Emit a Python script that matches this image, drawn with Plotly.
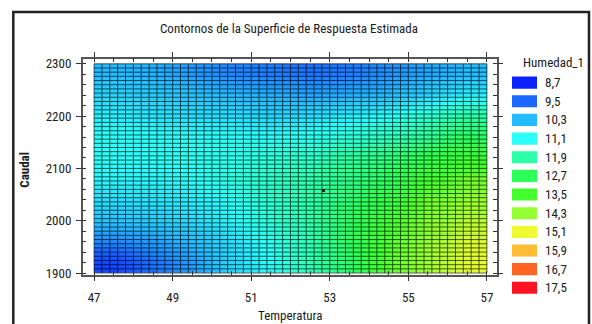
import numpy as np
import plotly.graph_objects as go

# ---------------- data ----------------
# cell-centre positions of the read values
temperatura = [47.5, 48.5, 49.5, 50.5, 51.5, 52.5, 53.5, 54.5, 55.5, 56.5]
caudal = [1920, 1960, 2000, 2040, 2080, 2120, 2160, 2200, 2240, 2280]
humedad = [
    [9.1, 9.6, 10.0, 10.6, 11.1, 11.8, 12.5, 13.7, 14.4, 15.0],
    [9.8, 10.0, 10.3, 10.7, 11.2, 11.8, 12.6, 13.6, 14.3, 14.9],
    [10.4, 10.5, 10.7, 11.0, 11.4, 11.9, 12.6, 13.4, 14.1, 14.6],
    [10.7, 10.8, 10.9, 11.1, 11.5, 11.9, 12.4, 13.0, 13.9, 14.3],
    [11.0, 11.0, 11.1, 11.3, 11.6, 11.9, 12.2, 12.7, 13.4, 13.9],
    [11.1, 11.1, 11.2, 11.2, 11.4, 11.6, 12.0, 12.4, 12.9, 13.3],
    [11.1, 11.1, 11.1, 11.1, 11.1, 11.2, 11.4, 11.7, 12.1, 12.6],
    [10.9, 10.8, 10.7, 10.7, 10.6, 10.7, 10.9, 11.1, 11.5, 11.9],
    [10.6, 10.5, 10.4, 10.3, 10.2, 10.1, 10.2, 10.3, 10.6, 10.9],
    [10.3, 10.2, 10.0, 9.8, 9.7, 9.6, 9.7, 9.9, 10.1, 10.3],
]
# evaluation grid of the surface (cell edges)
t_min, t_max, n_t = 47, 57, 50
q_min, q_max, n_q = 1900, 2300, 50
# marked point
punto_t = [52.84]
punto_q = [2058]

niveles = [8.7, 9.5, 10.3, 11.1, 11.9, 12.7, 13.5, 14.3, 15.1, 15.9, 16.7, 17.5]
colores = ["#0a22ff", "#1a68ff", "#24bcff", "#2cfffa", "#2cffa8", "#2cff58",
           "#44ff2e", "#94ff32", "#f0fa34", "#ffbc34", "#ff6424", "#ff1222"]
etiquetas = [f"{v:.1f}".replace(".", ",") for v in niveles]

W, H = 592, 324
FONT = "Roboto Condensed, Archivo Narrow, Arial Narrow, sans-serif"
TXT = "#1a1a1a"

def px(x):
    return x / W

def py(y):
    return 1 - y / H

zmin, zmax = niveles[0], niveles[-1]
cscale = [[(v - zmin) / (zmax - zmin), c] for v, c in zip(niveles, colores)]

fig = go.Figure()

fig.add_trace(go.Heatmap(
    x=temperatura, y=caudal, z=humedad,
    colorscale=cscale, zmin=zmin, zmax=zmax, zsmooth="best",
    showscale=False, hoverinfo="skip",
))

# cell grid lines
t_edges = np.linspace(t_min, t_max, n_t + 1)
q_edges = np.linspace(q_min, q_max, n_q + 1)
gx, gy = [], []
for t in t_edges:
    gx += [t, t, None]
    gy += [q_min, q_max, None]
for q in q_edges:
    gx += [t_min, t_max, None]
    gy += [q, q, None]
fig.add_trace(go.Scatter(x=gx, y=gy, mode="lines",
                         line=dict(color="rgba(0,0,0,0.62)", width=1),
                         hoverinfo="skip", showlegend=False))

fig.add_trace(go.Scatter(x=punto_t, y=punto_q, mode="markers",
                         marker=dict(symbol="square", size=3, color="#222"),
                         hoverinfo="skip", showlegend=False))

# legend as a small bar subplot
fig.add_trace(go.Bar(
    x=[1] * len(niveles), y=etiquetas, orientation="h",
    marker=dict(color=colores, line=dict(width=0)),
    xaxis="x2", yaxis="y2", hoverinfo="skip", showlegend=False,
))

axis_common = dict(
    showline=True, linecolor="#555", linewidth=1.5, mirror="allticks",
    ticks="outside", ticklen=5, tickcolor="#333", tickwidth=1,
    showgrid=False, zeroline=False,
    tickfont=dict(family=FONT, size=13, color=TXT),
)

fig.update_layout(
    width=W, height=H,
    margin=dict(l=0, r=0, t=0, b=0),
    paper_bgcolor="white", plot_bgcolor="white",
    showlegend=False,
    bargap=0.35,
    xaxis=dict(
        domain=[px(82.7), px(496.7)], range=[46.71, 57.25],
        tickvals=[47, 49, 51, 53, 55, 57], ticklabelstandoff=5,
        minor=dict(dtick=0.5, tick0=47, ticks="inside", ticklen=4, tickcolor="#333"),
        anchor="y", **axis_common,
    ),
    yaxis=dict(
        domain=[py(279.5), py(58)], range=[1897, 2310],
        tickvals=[1900, 2000, 2100, 2200, 2300], ticklabelstandoff=2,
        minor=dict(dtick=20, tick0=1900, ticks="inside", ticklen=4, tickcolor="#333"),
        anchor="x", **axis_common,
    ),
    xaxis2=dict(domain=[px(512), px(537)], range=[0, 1], visible=False,
                anchor="y2", fixedrange=True),
    yaxis2=dict(domain=[py(302.6), py(73.1)], anchor="x2", side="right",
                autorange="reversed", showline=False, showgrid=False,
                zeroline=False, ticks="", ticklabelstandoff=7,
                tickfont=dict(family=FONT, size=13, color=TXT)),
)

# outer frame
fig.add_shape(type="rect", xref="paper", yref="paper",
              x0=px(13.3), x1=px(589), y0=py(340), y1=py(10.3),
              line=dict(color="#222", width=2.5), fillcolor="rgba(0,0,0,0)")

anns = [
    dict(text="Contornos de la Superficie de Respuesta Estimada", x=px(288.5), y=py(27.5),
         font=dict(family=FONT, size=13, color=TXT)),
    dict(text="Humedad_1", x=px(553), y=py(62.5), font=dict(family=FONT, size=13, color=TXT)),
    dict(text="<b>Caudal</b>", x=px(25), y=py(172), textangle=-90,
         font=dict(family=FONT, size=13, color=TXT)),
    dict(text="Temperatura", x=px(290), y=py(321.5), font=dict(family=FONT, size=13, color=TXT)),
]
for a in anns:
    fig.add_annotation(xref="paper", yref="paper", xanchor="center", yanchor="middle",
                       showarrow=False, **a)

fig.write_html("out.html")
